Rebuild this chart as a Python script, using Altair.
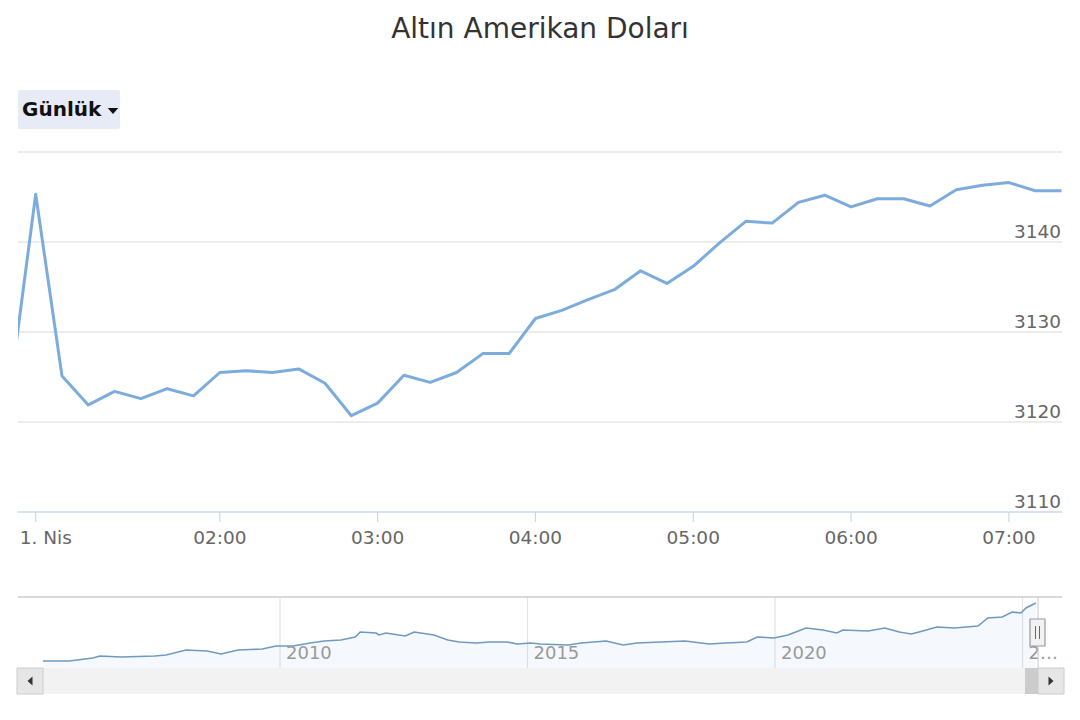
import altair as alt
import pandas as pd

# ---------------- data ----------------
TITLE = "Altın Amerikan Doları"
BUTTON_LABEL = "Günlük"

# intraday gold price (USD), one point every 10 minutes (ordinal index)
main_values = [3123.0, 3145.3, 3125.1, 3121.9, 3123.4, 3122.6, 3123.7, 3122.9,
               3125.5, 3125.7, 3125.5, 3125.9, 3124.3, 3120.7, 3122.1, 3125.2,
               3124.4, 3125.5, 3127.6, 3127.6, 3131.5, 3132.4, 3133.6, 3134.7,
               3136.8, 3135.4, 3137.3, 3139.9, 3142.3, 3142.1, 3144.4, 3145.2,
               3143.9, 3144.8, 3144.8, 3144.0, 3145.8, 3146.3, 3146.6, 3145.7,
               3145.7]
x_tick_index = [1, 8, 14, 20, 26, 32, 38]
x_tick_labels = ["1. Nis", "02:00", "03:00", "04:00", "05:00", "06:00", "07:00"]
y_grid_values = [3120, 3130, 3140, 3150]
y_label_values = [3110, 3120, 3130, 3140]

# navigator: long-term history
nav_years = [2005.21, 2005.74, 2006.22, 2006.36, 2006.79, 2007.47, 2007.70, 2008.10,
             2008.53, 2008.81, 2009.15, 2009.64, 2009.92, 2010.26, 2010.61, 2010.89,
             2011.23, 2011.52, 2011.62, 2011.94, 2012.00, 2012.14, 2012.53, 2012.71,
             2013.11, 2013.39, 2013.62, 2013.96, 2014.24, 2014.59, 2014.79, 2015.07,
             2015.25, 2015.82, 2016.08, 2016.59, 2016.93, 2017.21, 2017.70, 2018.18,
             2018.67, 2019.01, 2019.43, 2019.64, 2019.98, 2020.26, 2020.63, 2020.97,
             2021.25, 2021.37, 2021.88, 2022.22, 2022.51, 2022.75, 2022.91, 2023.27,
             2023.62, 2024.10, 2024.30, 2024.59, 2024.79, 2024.97, 2025.07, 2025.27]
nav_prices = [430, 430, 570, 663, 617, 663, 710, 944,
              897, 757, 944, 990, 1130, 1130, 1271, 1364,
              1411, 1551, 1784, 1738, 1644, 1738, 1598, 1784,
              1644, 1411, 1317, 1271, 1317, 1317, 1224, 1271,
              1224, 1177, 1271, 1364, 1177, 1271, 1317, 1364,
              1224, 1271, 1317, 1551, 1504, 1644, 1971, 1878,
              1738, 1878, 1831, 1971, 1784, 1691, 1784, 2018,
              1971, 2064, 2438, 2485, 2718, 2672, 2905, 3138]
nav_grid_years = [2010, 2015, 2020, 2025]
nav_grid_labels = ["2010", "2015", "2020", "2…"]
NAV_BASE = 103

# ---------------- layout constants ----------------
W, H = 1044, 704
FONT = "DejaVu Sans"

main_df = pd.DataFrame({"i": list(range(len(main_values))), "v": main_values})
xtick_df = pd.DataFrame({"i": x_tick_index, "label": x_tick_labels})
ygrid_df = pd.DataFrame({"g": y_grid_values})
ylab_df = pd.DataFrame({"g": y_label_values, "label": [str(v) for v in y_label_values]})
nav_df = pd.DataFrame({"year": nav_years, "price": nav_prices,
                       "base": [NAV_BASE] * len(nav_prices)})
navgrid_df = pd.DataFrame({"year": nav_grid_years, "label": nav_grid_labels})
one = pd.DataFrame({"k": [0]})

xs_main = alt.Scale(domain=[0.327, 40.02], nice=False, zero=False)
ys_main = alt.Scale(domain=[3110, 3150], range=[504, 144], nice=False, zero=False)
xs_nav = alt.Scale(domain=[2004.707, 2025.798], nice=False, zero=False)
ys_nav = alt.Scale(domain=[NAV_BASE, 3138], range=[660, 595], nice=False, zero=False)

# ---------------- main panel ----------------
grid = alt.Chart(ygrid_df).mark_rule(color="#e6e6e6", strokeWidth=1.5).encode(
    y=alt.Y("g:Q", scale=ys_main, axis=None), x=alt.value(0), x2=alt.value(W))
axis_line = alt.Chart(ylab_df[ylab_df.g == 3110]).mark_rule(color="#ccd6eb", strokeWidth=1.5).encode(
    y=alt.Y("g:Q", scale=ys_main, axis=None), x=alt.value(0), x2=alt.value(W))
ylabels = alt.Chart(ylab_df).mark_text(align="right", baseline="alphabetic", dy=-4,
                                       font=FONT, fontSize=18.5, color="#666666").encode(
    y=alt.Y("g:Q", scale=ys_main, axis=None), x=alt.value(1043), text="label:N")
xticks = alt.Chart(xtick_df).mark_rule(color="#ccd6eb", strokeWidth=1.2).encode(
    x=alt.X("i:Q", scale=xs_main, axis=None), y=alt.value(504), y2=alt.value(514))
xlabels = alt.Chart(xtick_df[xtick_df.i != 1]).mark_text(
    align="center", baseline="middle", font=FONT, fontSize=18.5, color="#666666").encode(
    x=alt.X("i:Q", scale=xs_main, axis=None), y=alt.value(530), text="label:N")
xlabel_first = alt.Chart(xtick_df[xtick_df.i == 1]).mark_text(
    align="left", baseline="middle", dx=-16, font=FONT, fontSize=18.5, color="#666666").encode(
    x=alt.X("i:Q", scale=xs_main, axis=None), y=alt.value(530), text="label:N")
line = alt.Chart(main_df).mark_line(color="#7cacdc", strokeWidth=3, clip=True,
                                    strokeJoin="round").encode(
    x=alt.X("i:Q", scale=xs_main, axis=None), y=alt.Y("v:Q", scale=ys_main, axis=None))

main_layer = alt.layer(grid, axis_line, xticks, xlabels, xlabel_first, ylabels, line)

# ---------------- navigator ----------------
scroll_track = alt.Chart(one).mark_rect(color="#f2f2f2").encode(
    x=alt.value(-1), x2=alt.value(1046), y=alt.value(660), y2=alt.value(686))
nav_grid = alt.Chart(navgrid_df).mark_rule(color="#e3e3e3", strokeWidth=1.2).encode(
    x=alt.X("year:Q", scale=xs_nav, axis=None), y=alt.value(589), y2=alt.value(660))
nav_area = alt.Chart(nav_df).mark_area(color="#7cb5ec", opacity=0.08).encode(
    x=alt.X("year:Q", scale=xs_nav, axis=None),
    y=alt.Y("price:Q", scale=ys_nav, axis=None), y2="base:Q")
nav_line = alt.Chart(nav_df).mark_line(color="#7099c0", strokeWidth=1.6).encode(
    x=alt.X("year:Q", scale=xs_nav, axis=None),
    y=alt.Y("price:Q", scale=ys_nav, axis=None))
nav_labels = alt.Chart(navgrid_df).mark_text(
    align="left", baseline="middle", dx=6, font=FONT, fontSize=18, color="#999999").encode(
    x=alt.X("year:Q", scale=xs_nav, axis=None), y=alt.value(646), text="label:N")

nav_layer = alt.layer(nav_grid, nav_area, nav_line, nav_labels)

# ---------------- decorations ----------------
title = alt.Chart(one).mark_text(text=TITLE, font=FONT, fontSize=28, color="#333333",
                                 align="center", baseline="middle").encode(
    x=alt.value(522), y=alt.value(22))
btn = alt.Chart(one).mark_rect(color="#e6ebf5", cornerRadius=2).encode(
    x=alt.value(0), x2=alt.value(102), y=alt.value(82), y2=alt.value(121))
btn_text = alt.Chart(one).mark_text(text=BUTTON_LABEL, font=FONT, fontSize=20,
                                    fontWeight="bold", color="#111111",
                                    align="left", baseline="middle").encode(
    x=alt.value(4), y=alt.value(102))
btn_arrow = alt.Chart(one).mark_point(shape="M-1,-0.55L1,-0.55L0,0.55Z", filled=True,
                                      size=110, color="#111111", opacity=1).encode(
    x=alt.value(95), y=alt.value(103))
nav_top = alt.Chart(one).mark_rule(color="#cccccc", strokeWidth=1.5).encode(
    x=alt.value(0), x2=alt.value(W), y=alt.value(589))
sel_line = alt.Chart(one).mark_rule(color="#c8c8c8", strokeWidth=1).encode(
    x=alt.value(1020), y=alt.value(589), y2=alt.value(660))
left_btn = alt.Chart(one).mark_rect(color="#e6e6e6", stroke="#cccccc", strokeWidth=1).encode(
    x=alt.value(-1), x2=alt.value(25), y=alt.value(660), y2=alt.value(686))
left_arrow = alt.Chart(one).mark_point(shape="M0.55,-1L0.55,1L-0.55,0Z", filled=True,
                                       size=81, color="#333333", opacity=1).encode(
    x=alt.value(12), y=alt.value(673))
thumb = alt.Chart(one).mark_rect(color="#cccccc").encode(
    x=alt.value(1007), x2=alt.value(1020), y=alt.value(660), y2=alt.value(686))
right_btn = alt.Chart(one).mark_rect(color="#e6e6e6", stroke="#cccccc", strokeWidth=1).encode(
    x=alt.value(1020), x2=alt.value(1046), y=alt.value(660), y2=alt.value(686))
right_arrow = alt.Chart(one).mark_point(shape="M-0.55,-1L-0.55,1L0.55,0Z", filled=True,
                                        size=81, color="#333333", opacity=1).encode(
    x=alt.value(1033), y=alt.value(673))
handle = alt.Chart(one).mark_rect(color="#f2f2f2", stroke="#999999", strokeWidth=1.2).encode(
    x=alt.value(1012), x2=alt.value(1027), y=alt.value(611), y2=alt.value(638))
handle_l1 = alt.Chart(one).mark_rule(color="#666666", strokeWidth=1).encode(
    x=alt.value(1017.5), y=alt.value(618), y2=alt.value(631))
handle_l2 = alt.Chart(one).mark_rule(color="#666666", strokeWidth=1).encode(
    x=alt.value(1021.5), y=alt.value(618), y2=alt.value(631))

chart = alt.layer(
    title, btn, btn_text, btn_arrow,
    main_layer,
    scroll_track, nav_layer, nav_top, sel_line,
    left_btn, left_arrow, thumb, right_btn, right_arrow,
    handle, handle_l1, handle_l2,
).resolve_scale(
    x="independent", y="independent"
).properties(
    width=W, height=H, autosize="none",
    padding={"left": 10, "top": 0, "right": 8, "bottom": 0},
).configure_view(strokeWidth=0)

chart.save("out.html", embed_options={"renderer": "svg", "actions": False})
